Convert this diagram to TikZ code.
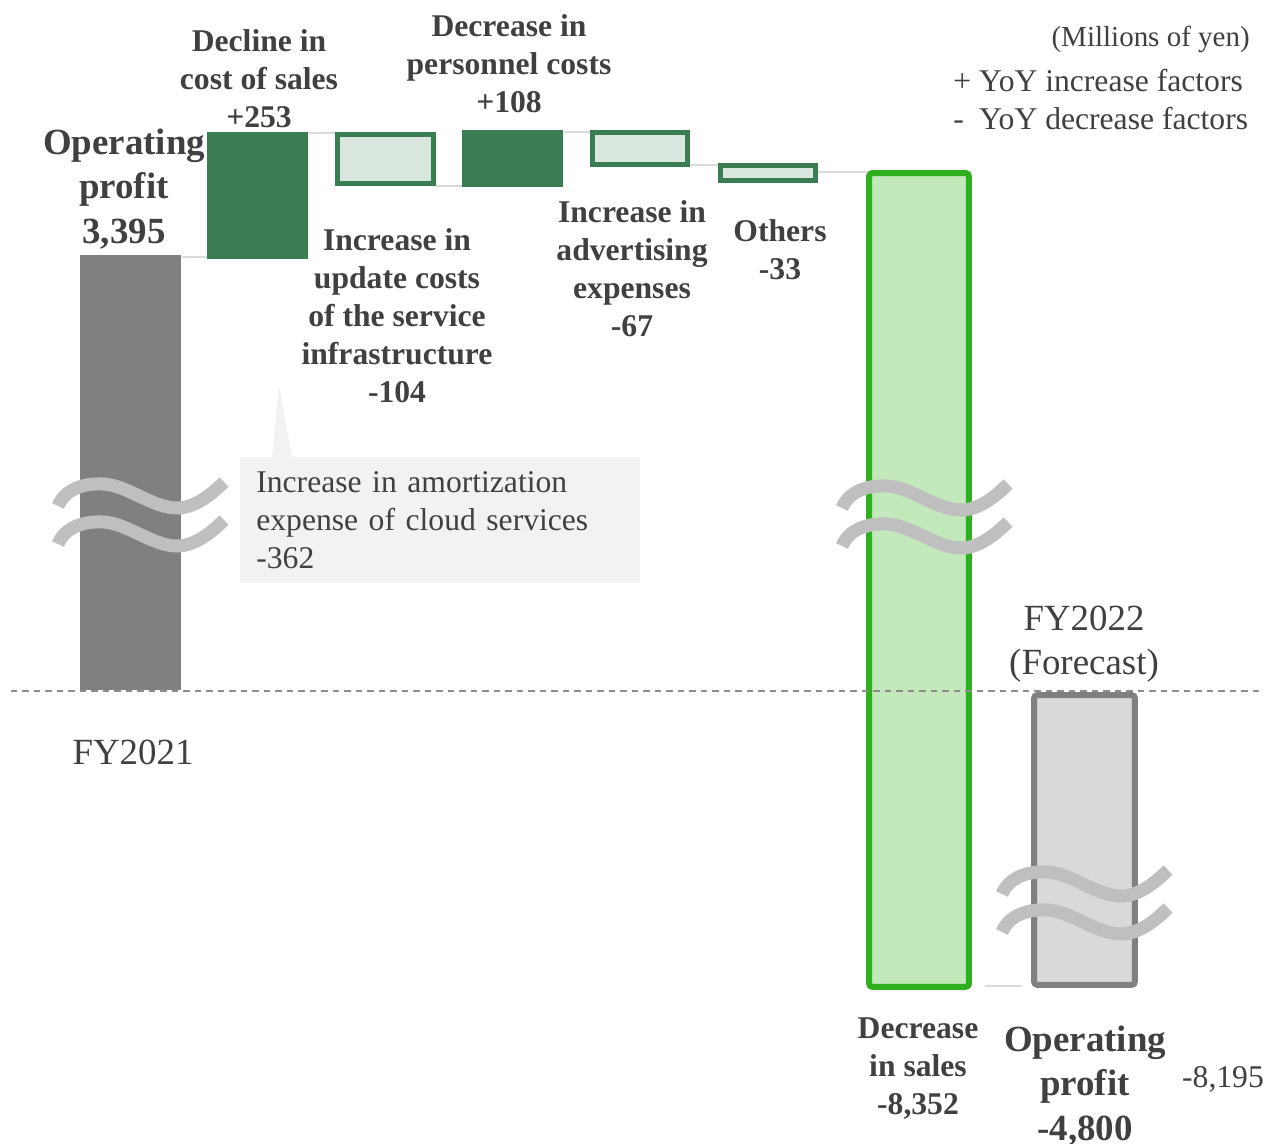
\documentclass[tikz,border=0pt]{standalone}
\usepackage{fontspec}
\setmainfont{Liberation Serif}
\usepackage{tikz}
\usetikzlibrary{calc}
\definecolor{upgreen}{RGB}{58,125,83}
\definecolor{palegreen}{RGB}{217,230,221}
\definecolor{salesgreen}{RGB}{46,176,30}
\definecolor{salesfill}{RGB}{195,232,187}
\definecolor{bargray}{RGB}{128,128,128}
\definecolor{fcfill}{RGB}{217,217,217}
\definecolor{notefill}{RGB}{242,242,242}
\definecolor{wavegray}{RGB}{191,191,191}
\definecolor{txtgray}{RGB}{64,64,64}
\definecolor{linkgray}{RGB}{217,217,217}
\definecolor{dashgray}{RGB}{140,140,140}

% two wavy break marks across a bar
\newcommand{\breakwave}[2]{%
	\begin{scope}[shift={(#1,#2)}]
		\draw[wave] (0,0) .. controls (7,-17) and (26,-23) .. (45,-22) .. controls (70,-21) and (95,3) .. (121,2) .. controls (138,1) and (154,-12) .. (166,-24);
		\draw[wave] (0,38) .. controls (7,21) and (26,15) .. (45,16) .. controls (70,17) and (95,41) .. (121,40) .. controls (138,39) and (154,26) .. (166,14);
	\end{scope}}

\begin{document}
\begin{tikzpicture}[x=0.02cm, y=-0.02cm,
	upbar/.style={fill=upgreen, inner sep=0, anchor=north west},
	downbar/.style={draw=upgreen, fill=palegreen, line width=0.1cm, inner sep=0, anchor=north west},
	link/.style={draw=linkgray, line width=0.04cm},
	lbl/.style={font=\bfseries\fontsize{18}{21.6}\selectfont, text=txtgray, align=center, inner sep=0},
	biglbl/.style={font=\bfseries\fontsize{21}{25.3}\selectfont, text=txtgray, align=center, inner sep=0},
	plain/.style={font=\fontsize{18}{21.6}\selectfont, text=txtgray, inner sep=0},
	fylbl/.style={font=\fontsize{21}{25.3}\selectfont, text=txtgray, align=center, inner sep=0},
	wave/.style={draw=wavegray, line width=0.26cm}]
		\useasboundingbox (0,0) rectangle (1270,1143);
		
		% bars
		\node(fy21bar) [fill=bargray, inner sep=0, anchor=north west, minimum width=2.02cm, minimum height=8.7cm] at (80,255) {};
		\node(cost)  [upbar, minimum width=2.02cm, minimum height=2.54cm] at (207,132) {};
		\node(update)  [downbar, minimum width=1.92cm, minimum height=0.98cm] at (335,132) {};
		\node(staff)  [upbar, minimum width=2.02cm, minimum height=1.14cm] at (462,130) {};
		\node(advert)  [downbar, minimum width=1.9cm, minimum height=0.64cm] at (590,130) {};
		\node(others)  [downbar, minimum width=1.9cm, minimum height=0.3cm] at (718,163) {};
		\node(sales)  [draw=salesgreen, fill=salesfill, line width=0.12cm, rounded corners=2pt, inner sep=0, anchor=north west, minimum width=2cm, minimum height=16.28cm] at (866,170) {};
		\node(fy22bar)  [draw=bargray, fill=fcfill, line width=0.12cm, rounded corners=2pt, inner sep=0, anchor=north west, minimum width=2.02cm, minimum height=5.8cm] at (1031,692) {};
		
		% connectors
		\draw[link] ([yshift=-0.04cm]fy21bar.north east) -- ([yshift=-0.04cm]fy21bar.north east -| cost.west);
		\draw[link] ([yshift=-0.02cm]cost.north east) -- ([yshift=-0.02cm]cost.north east -| update.west);
		\draw[link] (update.south east) -- (update.south east -| staff.west);
		\draw[link] ([yshift=-0.04cm]staff.north east) -- ([yshift=-0.04cm]staff.north east -| advert.west);
		\draw[link] ([yshift=0.04cm]advert.south east) -- ([yshift=0.04cm]advert.south east -| others.west);
		\draw[link] ([yshift=-0.04cm]sales.north west -| others.east) -- ([yshift=-0.04cm]sales.north west);
		\draw[link] ($(sales.south east)+(13,-4)$) -- ($(sales.south east -| fy22bar.west)+(-9,-4)$);
		
		% labels
		\node(op21) [biglbl] at (124,189) {Operating\\profit\\3,395};
		\node(lcost) [lbl] at (259,79) {Decline in\\cost of sales\\+253};
		\node(lupdate) [lbl] at (397,316) {Increase in\\update costs\\of the service\\infrastructure\\-104};
		\node(lstaff) [lbl] at (509,64) {Decrease in\\personnel costs\\+108};
		\node(ladvert) [lbl] at (632,269) {Increase in\\advertising\\expenses\\-67};
		\node(lothers) [lbl] at (780,250) {Others\\-33};
		\node(lsales) [lbl] at (918,1069) {Decrease\\in sales\\-8,352};
		\node(op22) [biglbl] at (1085,1086) {Operating\\profit\\-4,800};
		\node(gap) [plain] at (1223,1079) {-8,195};
		\node(fy21) [fylbl] at (133,752) {FY2021};
		\node(fy22) [fylbl] at (1084,644) {FY2022\\(Forecast)};
		\node(unit) [plain, font=\fontsize{16.5}{20}\selectfont, anchor=east] at (1250,39) {(Millions of yen)};
		\node(legend) [plain, align=left, anchor=north west] at (953,69) {+ YoY increase factors\\-\hspace{0.48em}YoY decrease factors};
		
		% callout
		\fill[notefill] (272,458) -- (279,385) -- (292,458) -- cycle;
		\node(note) [plain, fill=notefill, anchor=north west, minimum width=8cm, minimum height=2.52cm, inner xsep=0.32cm, text width=7.36cm, align=left] at (240,457) {Increase in amortization\\expense of cloud services\\-362};
		
		% break marks
		\breakwave{58}{506}
		\breakwave{842}{508}
		\breakwave{1002}{894}
		
		\draw[dashgray, line width=0.03cm, dash pattern=on 0.13cm off 0.1cm] (11,691) -- (1262,691);
		\end{tikzpicture}
\end{document}
